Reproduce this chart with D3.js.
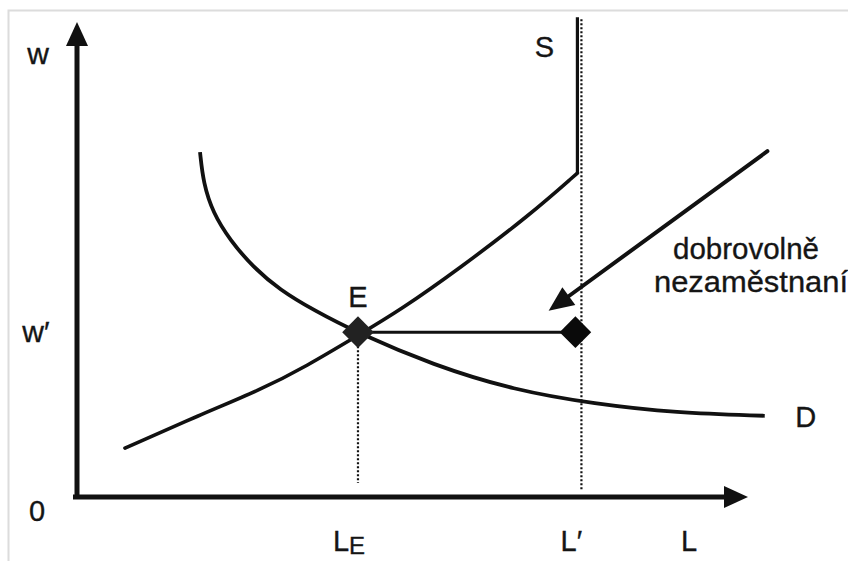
<!DOCTYPE html>
<html><head><meta charset="utf-8">
<script src="https://cdn.jsdelivr.net/npm/d3@7"></script>
<style>
html,body{margin:0;padding:0;background:#fff;}
svg{display:block;}
text{font-family:"Liberation Sans",Arial,Helvetica,sans-serif;fill:#151515;stroke:#151515;stroke-width:0.35px;}
</style></head>
<body>
<script>
// ---- data (labor L on x, wage w on y; arbitrary units 0..100) ----
const LE = 42;          // equilibrium employment
const Lprime = 74.8;    // labour supply ceiling L′
const wPrime = 34.7;    // wage w′
const supplyL = [7.17, 18.39, 27.35, 34.38, 41.85, 48.28, 57.25, 67.71, 74.8];
const supplyW = [10.3, 17.3, 22.5, 27.6, 33.9, 39.3, 48.2, 59.4, 68.2];
const supplyTopW = 101;
const demandL = [18.39, 18.88, 20.33, 22.87, 26.31, 30.34, 35.28, 42.0, 53.2, 65.3, 77.4, 89.5, 102.8];
const demandW = [72.6, 66.1, 59.8, 54.1, 48.4, 43.6, 39.4, 34.5, 27.8, 22.5, 19.6, 17.7, 17.1];
const arrowFromL = 103.2, arrowFromW = 72.8, arrowToL = 70.5, arrowToW = 39.2;
const xTickLabels = ["L", "L′"];          // L_E (with subscript) and L′
const axisLabels = {x: "L", y: "w", origin: "0", wTick: "w′"};
const curveLabels = {supply: "S", demand: "D", eq: "E"};
const noteLines = ["dobrovolně", "nezaměstnaní"];

const W = 848, H = 561;
const svg = d3.select("body").append("svg").attr("width", W).attr("height", H);

// light scan border
svg.append("path").attr("d", "M8.5,561 V10.5 H848").attr("fill", "none")
  .attr("stroke", "#dcdcdc").attr("stroke-width", 2);

const x = d3.scaleLinear().domain([0, 100]).range([77, 746]);
const y = d3.scaleLinear().domain([0, 100]).range([497, 22]);

const black = "#111";

// axes
const ax = svg.append("g");
ax.append("line").attr("x1", x(0)).attr("x2", x(0)).attr("y1", y(0) + 2).attr("y2", y(100) + 18)
  .attr("stroke", black).attr("stroke-width", 5);
ax.append("line").attr("x1", x(0) - 4).attr("x2", x(100) - 18).attr("y1", y(0)).attr("y2", y(0))
  .attr("stroke", black).attr("stroke-width", 5);
ax.append("path").attr("d", `M${x(0)},${y(100)} L${x(0) - 11},${y(100) + 24} L${x(0) + 11},${y(100) + 24} Z`).attr("fill", black);
ax.append("path").attr("d", `M${x(100) + 2},${y(0)} L${x(100) - 22},${y(0) - 11} L${x(100) - 22},${y(0) + 11} Z`).attr("fill", black);

// dotted guides
const dot = (xv, y1, y2) => svg.append("line").attr("x1", x(xv)).attr("x2", x(xv))
  .attr("y1", y1).attr("y2", y2).attr("stroke", black).attr("stroke-width", 2.2)
  .attr("stroke-dasharray", "2,2");
dot(LE, y(wPrime) + 14, y(0) - 14);
dot(Lprime + 0.6, y(supplyTopW) + 2, y(0) - 7);

const line = d3.line().x(d => x(d[0])).y(d => y(d[1])).curve(d3.curveBasis);

// supply
const sup = supplyL.map((l, i) => [l, supplyW[i]]);
svg.append("path").attr("d", line(sup)).attr("fill", "none").attr("stroke", black)
  .attr("stroke-width", 3.6).attr("stroke-linecap", "round");
svg.append("line").attr("x1", x(Lprime)).attr("x2", x(Lprime))
  .attr("y1", y(supplyW[supplyW.length - 1])).attr("y2", y(supplyTopW))
  .attr("stroke", black).attr("stroke-width", 3.2);

// demand
const dem = demandL.map((l, i) => [l, demandW[i]]);
svg.append("path").attr("d", line(dem)).attr("fill", "none").attr("stroke", black)
  .attr("stroke-width", 3.8).attr("stroke-linecap", "butt");

// horizontal gap at w′
svg.append("line").attr("x1", x(LE)).attr("x2", x(Lprime - 0.6)).attr("y1", y(wPrime)).attr("y2", y(wPrime))
  .attr("stroke", black).attr("stroke-width", 3);

// diamonds
const diamond = d3.symbol().type(d3.symbolSquare).size(500);
[[LE, wPrime, "#222"], [Lprime - 0.3, wPrime, "#0a0a0a"]].forEach(([l, w, c]) => {
  svg.append("path").attr("d", diamond())
    .attr("transform", `translate(${x(l)},${y(w)}) rotate(45)`).attr("fill", c);
});

// arrow toward L′ point
{
  const x1 = x(arrowFromL), y1 = y(arrowFromW), x2 = x(arrowToL), y2 = y(arrowToW);
  const dx = x2 - x1, dy = y2 - y1, len = Math.hypot(dx, dy), ux = dx / len, uy = dy / len;
  const hl = 25, hw = 11;
  const bx = x2 - ux * hl, by = y2 - uy * hl;
  svg.append("line").attr("x1", x1).attr("y1", y1).attr("x2", bx + ux * 2).attr("y2", by + uy * 2)
    .attr("stroke", black).attr("stroke-width", 4).attr("stroke-linecap", "round");
  svg.append("path").attr("d", `M${x2},${y2} L${bx - uy * hw},${by + ux * hw} L${bx + uy * hw},${by - ux * hw} Z`)
    .attr("fill", black);
}

// labels
const T = (t, px, py, anchor = "middle", fs = 29) => svg.append("text").attr("x", px).attr("y", py)
  .attr("text-anchor", anchor).attr("font-size", fs).text(t);
T(axisLabels.y, x(0) - 39, 64, "middle", 30);
T(axisLabels.wTick, x(0) - 41, y(wPrime) + 10, "middle", 30);
T(axisLabels.origin, x(0) - 40, 521);
T(curveLabels.supply, x(Lprime) - 33, 57);
T(curveLabels.eq, x(LE), 307);
T(curveLabels.demand, x(demandL[demandL.length - 1]) + 41, 427);
T(axisLabels.x, 689, 551);
const le = T(xTickLabels[0], x(LE) - 9, 551);
le.append("tspan").attr("font-size", 24).attr("dy", 3).text("E");
T(xTickLabels[1], x(Lprime) - 6, 551);
T(noteLines[0], 673, 259, "start", 30).attr("textLength", 146).attr("lengthAdjust", "spacingAndGlyphs");
T(noteLines[1], 654, 292, "start", 30).attr("textLength", 194).attr("lengthAdjust", "spacingAndGlyphs");
</script>
</body></html>
